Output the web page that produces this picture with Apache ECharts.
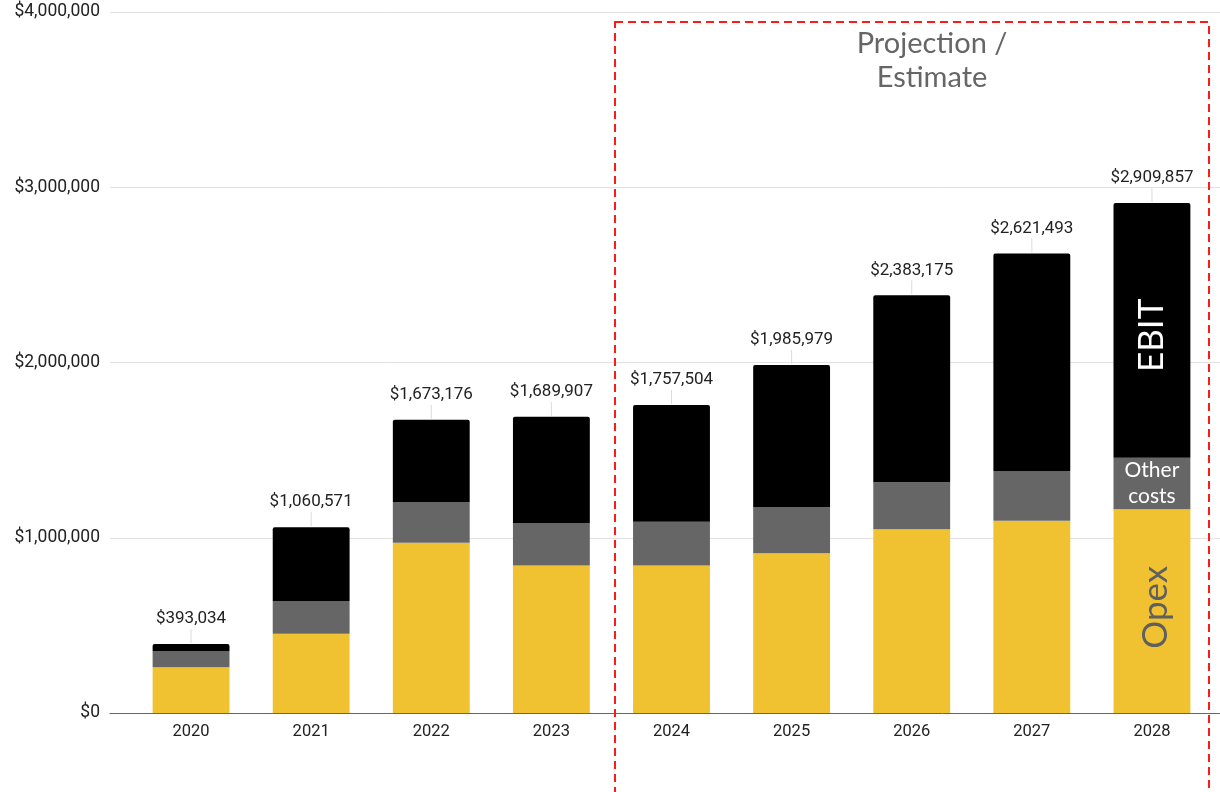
<!DOCTYPE html>
<html>
<head>
<meta charset="utf-8">
<script src="https://cdn.jsdelivr.net/npm/echarts@6/dist/echarts.min.js"></script>
<style>
html,body{margin:0;padding:0;background:#fff;}
#chart{width:1220px;height:792px;}
</style>
</head>
<body>
<div id="chart"></div>
<script>
const years = ['2020','2021','2022','2023','2024','2025','2026','2027','2028'];
const totals = [393034, 1060571, 1673176, 1689907, 1757504, 1985979, 2383175, 2621493, 2909857];
const opex = [261000, 452000, 972000, 841000, 841000, 911000, 1048000, 1097000, 1162000];
const otherCosts = [93000, 187000, 232000, 243000, 251000, 264000, 268000, 284000, 295000];
const ebit = totals.map((t, i) => t - opex[i] - otherCosts[i]);
const yTicks = [0, 1000000, 2000000, 3000000, 4000000];
const projectionText = 'Projection /\nEstimate';

const fmt = v => '$' + Math.round(v).toLocaleString('en-US');
const last = years.length - 1;

function withLabel(arr, label) {
  return arr.map((v, i) => i === last ? { value: v, label: label } : v);
}

const chart = echarts.init(document.getElementById('chart'), null, { renderer: 'canvas' });
chart.setOption({
  animation: false,
  backgroundColor: '#fff',
  grid: [
    { left: 110, right: 0, top: 12, bottom: 79 },
    { left: 131, right: 8, top: 12, bottom: 79 }
  ],
  xAxis: [
    { gridIndex: 0, type: 'value', min: 0, max: 1, axisLine: { show: true, onZero: false, lineStyle: { color: '#666', width: 1 } },
      axisTick: { show: false }, axisLabel: { show: false }, splitLine: { show: false } },
    { gridIndex: 1, type: 'category', data: years, axisLine: { show: false }, axisTick: { show: false },
      axisLabel: { color: '#222', fontSize: 16.5, fontFamily: 'Roboto', margin: 10 } }
  ],
  yAxis: [
    { gridIndex: 0, type: 'value', min: yTicks[0], max: yTicks[yTicks.length - 1], interval: 1000000,
      axisLine: { show: false }, axisTick: { show: false },
      axisLabel: { color: '#222', fontSize: 17.5, fontFamily: 'Roboto', margin: 10, formatter: v => fmt(v) },
      splitLine: { lineStyle: { color: '#e2e2e2', width: 1 } } },
    { gridIndex: 1, type: 'value', min: yTicks[0], max: yTicks[yTicks.length - 1], interval: 1000000, show: false, splitLine: { show: false } }
  ],
  series: [
    { type: 'bar', name: 'Opex', stack: 's', xAxisIndex: 1, yAxisIndex: 1, barWidth: '64%',
      itemStyle: { color: '#F0C232' },
      data: withLabel(opex, { show: true, position: 'inside', rotate: 90, offset: [4, 4], formatter: 'Opex', color: '#5f5f5f', fontSize: 35, fontFamily: 'Lato' }) },
    { type: 'bar', name: 'Other costs', stack: 's', xAxisIndex: 1, yAxisIndex: 1,
      itemStyle: { color: '#666666' },
      data: withLabel(otherCosts, { show: true, position: 'inside', formatter: 'Other\ncosts', color: '#fff', fontSize: 21, lineHeight: 26, fontFamily: 'Lato' }) },
    { type: 'custom', name: 'Total', xAxisIndex: 1, yAxisIndex: 1, z: 5,
      data: totals.map((t, i) => [i, t]),
      renderItem: function (params, api) {
        const p = api.coord([api.value(0), api.value(1)]);
        return {
          type: 'group',
          children: [
            { type: 'line', shape: { x1: p[0], y1: p[1] - 15, x2: p[0], y2: p[1] - 1 }, style: { stroke: '#dcdcdc', lineWidth: 1 } },
            { type: 'text', x: p[0], y: p[1] - 25, style: { text: fmt(api.value(1)), fill: '#222', fontSize: 17, fontFamily: 'Roboto', align: 'center', verticalAlign: 'middle' } }
          ]
        };
      }
    },
    { type: 'bar', name: 'EBIT', stack: 's', xAxisIndex: 1, yAxisIndex: 1,
      itemStyle: { color: '#000000', borderRadius: [2, 2, 0, 0] },
      data: withLabel(ebit, { show: true, position: 'inside', rotate: 90, offset: [-5, 0], formatter: 'EBIT', color: '#fff', fontSize: 35, fontFamily: 'Lato' }) }
  ],
  graphic: [
    { type: 'rect', shape: { x: 615, y: 22, width: 594, height: 800 }, style: { fill: 'none', stroke: '#ff1a1a', lineWidth: 2, lineDash: [8, 5] }, z: 10 },
    { type: 'text', x: 932, y: 61, style: { text: projectionText, fill: '#666', fontSize: 29, lineHeight: 34, fontFamily: 'Lato', align: 'center', verticalAlign: 'middle' }, z: 10 }
  ]
});
</script>
</body>
</html>
